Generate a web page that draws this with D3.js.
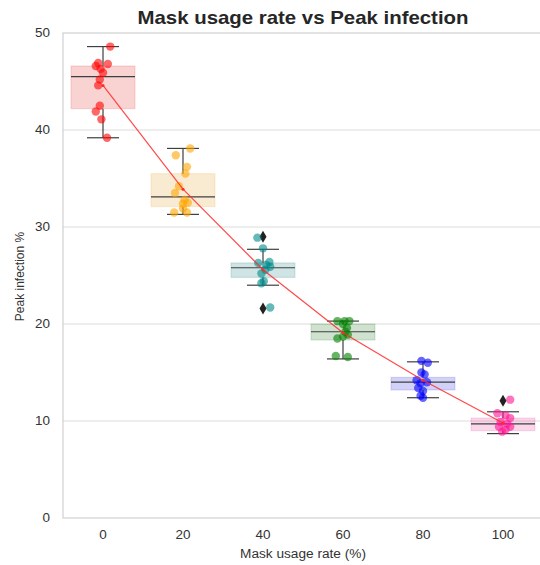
<!DOCTYPE html>
<html><head><meta charset="utf-8">
<script src="https://cdn.jsdelivr.net/npm/d3@7"></script>
<style>body{margin:0;background:#fff}svg{font-family:"Liberation Sans",Arial,sans-serif}</style>
</head><body><svg id="c" width="540" height="565"></svg>
<script>
const categories = ["0","20","40","60","80","100"];
const colors = ["#ff0000","#ffa500","#008b8b","#008000","#0000ff","#ff1493"];
const q1 = [42.2, 32.1, 24.8, 18.35, 13.2, 9.0];
const medians = [45.5, 33.1, 25.8, 19.2, 14.0, 9.7];
const q3 = [46.6, 35.5, 26.3, 20.0, 14.5, 10.3];
const whiskerLow = [39.2, 31.3, 24.0, 16.4, 12.4, 8.7];
const whiskerHigh = [48.6, 38.1, 27.7, 20.3, 16.1, 10.95];
const outliers = [[], [], [29.0, 21.6], [], [], [12.1]];
const means = [44.6, 33.9, 25.6, 19.1, 14.2, 9.8];
// strip points: [value, jitter (category units)]
const points0 = [[48.6,0.09],[46.9,-0.06],[46.8,0.06],[46.6,-0.09],[46.3,-0.03],[45.9,0.0],[45.2,-0.04],[44.6,-0.06],[42.5,-0.04],[41.9,-0.09],[41.1,-0.02],[39.2,0.05]];
const points20 = [[38.1,0.09],[37.4,-0.09],[36.2,0.05],[35.5,0.03],[34.2,-0.05],[33.5,-0.1],[32.8,0.02],[32.5,0.06],[32.4,0.0],[31.9,0.0],[31.5,-0.11],[31.5,0.05]];
const points40 = [[28.9,-0.07],[27.8,0.0],[26.4,0.08],[26.3,-0.06],[26.1,0.04],[25.9,0.09],[25.6,0.03],[25.2,-0.02],[24.4,0.01],[24.2,-0.02],[21.7,0.09]];
const points60 = [[20.3,-0.07],[20.3,0.02],[20.3,0.08],[20.0,0.0],[19.6,0.05],[19.2,0.03],[18.9,0.06],[18.7,0.0],[18.5,-0.07],[16.7,-0.09],[16.6,0.06]];
const points80 = [[16.2,-0.02],[16.0,0.06],[15.0,-0.02],[14.8,0.02],[14.2,-0.08],[14.0,0.05],[13.9,-0.03],[13.4,-0.06],[13.1,0.0],[12.6,-0.03],[12.4,0.0]];
const points100 = [[12.2,0.09],[10.8,-0.07],[10.6,0.03],[10.3,0.09],[9.9,-0.03],[9.7,0.05],[9.4,-0.05],[9.4,0.09],[9.1,0.03],[8.9,-0.01]];
const allPoints = [points0, points20, points40, points60, points80, points100];
const yTicks = [0,10,20,30,40,50];

function desat(c, p) { const h = d3.hsl(c); h.s *= p; return h.formatHex(); }

const svg = d3.select("#c");
const L = 63, R = 543, T = 33, B = 518;
const x = d3.scaleBand().domain(categories).range([L, R]).paddingInner(0).paddingOuter(0);
const bw = x.bandwidth();
const cx = c => x(c) + bw/2;
const y = d3.scaleLinear().domain([0, 50]).range([B, T]);

// grid
svg.append("g").selectAll("line").data(yTicks.filter(t=>t>0 && t<50)).join("line")
  .attr("x1", L).attr("x2", R).attr("y1", d=>y(d)).attr("y2", d=>y(d))
  .attr("stroke", "#dcdcdc").attr("stroke-width", 1);
// spines
svg.append("rect").attr("x", L).attr("y", T).attr("width", R-L).attr("height", B-T)
  .attr("fill", "none").attr("stroke", "#d0d0d0").attr("stroke-width", 1.2);

// y axis
const ya = svg.append("g").attr("transform", `translate(${L},0)`).call(d3.axisLeft(y).tickValues(yTicks).tickSize(0).tickPadding(13));
ya.select(".domain").remove();
ya.selectAll("text").attr("font-size", 12).attr("fill", "#333")
  .attr("textLength", d => String(d).length * 7.5).attr("lengthAdjust", "spacingAndGlyphs");
// x axis
const xa = svg.append("g").attr("transform", `translate(0,${B})`).call(d3.axisBottom(x).tickSize(0).tickPadding(12));
xa.select(".domain").remove();
xa.selectAll("text").attr("font-size", 12).attr("fill", "#333")
  .attr("textLength", d => String(d).length * 7.5).attr("lengthAdjust", "spacingAndGlyphs");

// boxes
const g = svg.append("g");
categories.forEach((c, i) => {
  const xc = cx(c), w = bw*0.8;
  g.append("rect").attr("x", xc - w/2).attr("width", w)
    .attr("y", y(q3[i])).attr("height", y(q1[i]) - y(q3[i]))
    .attr("fill", desat(colors[i], 0.75)).attr("fill-opacity", 0.2)
    .attr("stroke", desat(colors[i], 0.75)).attr("stroke-opacity", 0.15).attr("stroke-width", 1.2);
  const lc = "#3f3f3f";
  g.append("line").attr("x1", xc - w/2).attr("x2", xc + w/2).attr("y1", y(medians[i])).attr("y2", y(medians[i])).attr("stroke", lc).attr("stroke-width", 1.2);
  g.append("line").attr("x1", xc).attr("x2", xc).attr("y1", y(q3[i])).attr("y2", y(whiskerHigh[i])).attr("stroke", lc).attr("stroke-width", 1.2);
  g.append("line").attr("x1", xc).attr("x2", xc).attr("y1", y(q1[i])).attr("y2", y(whiskerLow[i])).attr("stroke", lc).attr("stroke-width", 1.2);
  [whiskerHigh[i], whiskerLow[i]].forEach(v => g.append("line").attr("x1", xc - w/4).attr("x2", xc + w/4).attr("y1", y(v)).attr("y2", y(v)).attr("stroke", lc).attr("stroke-width", 1.2));
  outliers[i].forEach(v => g.append("path").attr("d", `M${xc},${y(v)-6}L${xc+3.5},${y(v)}L${xc},${y(v)+6}L${xc-3.5},${y(v)}Z`).attr("fill", "#222"));
});

// strip points
categories.forEach((c, i) => {
  g.append("g").selectAll("circle").data(allPoints[i]).join("circle")
    .attr("cx", d => cx(c) + d[1]*bw).attr("cy", d => y(d[0])).attr("r", 4.2)
    .attr("fill", colors[i]).attr("fill-opacity", 0.6);
});

// mean line
const line = d3.line().x((d,i)=>cx(categories[i])).y(d=>y(d));
svg.append("path").datum(means).attr("d", line).attr("fill","none").attr("stroke","#ff2a2a").attr("stroke-opacity",0.85).attr("stroke-width",1.2);
svg.append("g").selectAll("circle").data(means).join("circle")
  .attr("cx",(d,i)=>cx(categories[i])).attr("cy",d=>y(d)).attr("r",1.5).attr("fill","#ff2a2a");

// title and labels
svg.append("text").attr("x", 303).attr("y", 24).attr("text-anchor","middle")
  .attr("font-size", 18.5).attr("font-weight","bold").attr("fill","#262626")
  .attr("textLength", 331).attr("lengthAdjust","spacingAndGlyphs").text("Mask usage rate vs Peak infection");
svg.append("text").attr("x", 303).attr("y", 558).attr("text-anchor","middle")
  .attr("font-size", 12).attr("fill","#333")
  .attr("textLength", 126).attr("lengthAdjust","spacingAndGlyphs").text("Mask usage rate (%)");
svg.append("text").attr("transform", `translate(24,276.5) rotate(-90)`).attr("text-anchor","middle")
  .attr("font-size", 12).attr("fill","#333").text("Peak infection %");
</script></body></html>
